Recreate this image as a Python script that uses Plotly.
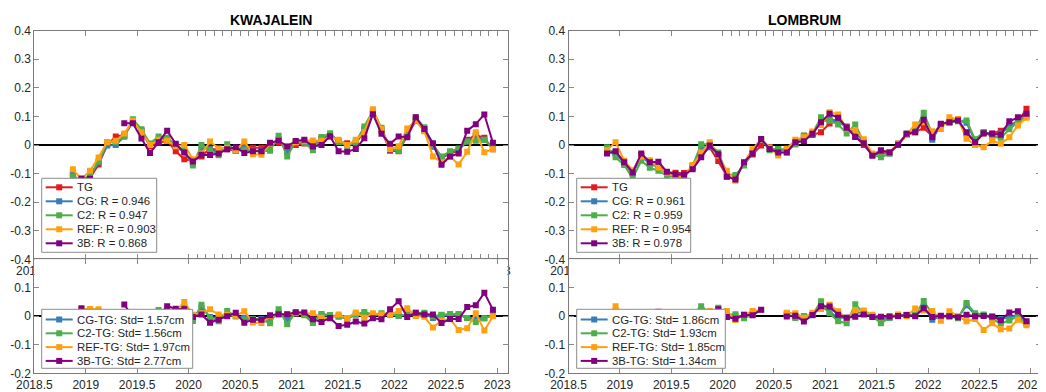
import numpy as np
import pandas as pd
import plotly.graph_objects as go

nan = np.nan

# ---------------- data ----------------
months = pd.period_range("2018-11", "2022-12", freq="M")
t = [p.year + (p.month - 0.5) / 12 for p in months]

series_names = ["TG", "CG", "C2", "REF", "3B"]

kw_TG = [-0.10, -0.145, -0.115, -0.068, 0.0, 0.03, 0.035, 0.08, 0.05, -0.005,
         0.008, 0.015, -0.022, -0.05, -0.055, -0.04, -0.012, -0.018, -0.015, -0.02,
         -0.005, -0.01, -0.01, 0.005, 0.008, -0.012, 0.0, 0.005, 0.006, 0.02,
         0.037, 0.012, 0.006, 0.005, 0.05, 0.115, 0.05, -0.02, -0.022, 0.03,
         0.085, 0.05, 0.0, -0.045, -0.03, -0.02, 0.018, 0.035, 0.025, -0.015]
kw_CG = [-0.105, -0.13, -0.108, -0.06, -0.002, 0.0, 0.03, 0.085, 0.05, 0.0,
         0.02, 0.022, -0.005, -0.025, -0.065, -0.01, -0.015, -0.025, -0.01, -0.02,
         -0.01, -0.02, -0.02, -0.01, 0.02, -0.025, 0.01, 0.01, -0.01, 0.025,
         0.038, 0.012, 0.0, 0.012, 0.055, 0.118, 0.055, -0.015, -0.02, 0.035,
         0.09, 0.058, -0.006, -0.042, -0.028, -0.015, 0.012, 0.03, 0.018, -0.01]
kw_C2 = [-0.11, -0.125, -0.105, -0.058, 0.01, 0.01, 0.03, 0.09, 0.055, 0.005,
         0.03, 0.025, 0.0, -0.02, -0.072, 0.0, -0.018, -0.036, 0.003, -0.02,
         -0.017, -0.02, -0.022, -0.02, 0.032, -0.04, 0.013, 0.008, -0.018, 0.028,
         0.041, 0.01, -0.003, 0.01, 0.065, 0.12, 0.06, -0.014, -0.02, 0.036,
         0.097, 0.062, 0.0, -0.04, -0.022, -0.012, 0.012, 0.015, 0.018, -0.012]
kw_REF = [-0.085, -0.12, -0.09, -0.044, 0.01, 0.015, 0.04, 0.085, 0.045, 0.0,
          0.018, 0.015, -0.004, 0.0, -0.05, -0.03, 0.012, -0.012, -0.01, -0.018,
          0.012, -0.032, -0.034, 0.005, 0.014, -0.005, 0.01, 0.015, 0.016, 0.015,
          0.028, 0.018, 0.0, 0.018, 0.045, 0.125, 0.056, -0.014, -0.004, 0.058,
          0.086, 0.048, -0.04, -0.06, -0.04, -0.068, -0.024, 0.045, -0.025, -0.015]
kw_3B = [nan, -0.117, -0.118, nan, nan, nan, 0.076, 0.076, 0.023, -0.028,
         0.01, 0.05, 0.004, -0.026, -0.058, -0.034, -0.035, -0.03, -0.015, -0.008,
         -0.028, -0.022, -0.022, 0.008, 0.015, -0.005, 0.014, 0.018, -0.005, 0.0,
         0.031, -0.022, -0.024, -0.014, 0.024, 0.108, 0.039, 0.004, 0.03, 0.027,
         0.097, 0.056, 0.006, -0.069, -0.04, -0.03, 0.05, 0.073, 0.107, 0.008]

lo_TG = [-0.02, -0.025, -0.06, -0.095, -0.035, -0.06, -0.075, -0.095, -0.097, -0.098,
         -0.08, -0.032, -0.008, -0.056, -0.108, -0.112, -0.065, -0.033, -0.002, nan,
         nan, -0.025, 0.008, 0.032, 0.035, 0.045, 0.075, 0.09, 0.065, 0.03,
         0.0, -0.035, -0.018, -0.025, 0.0, 0.035, 0.045, 0.06, 0.03, 0.072,
         0.08, 0.09, 0.04, 0.01, 0.04, 0.04, 0.05, 0.07, 0.08, 0.127]
lo_CG = [-0.015, -0.03, -0.062, -0.1, -0.04, -0.065, -0.078, -0.1, -0.105, -0.108,
         -0.075, -0.01, -0.005, -0.035, -0.11, -0.11, -0.07, -0.028, 0.02, -0.014,
         -0.015, -0.02, 0.005, 0.03, 0.038, 0.08, 0.09, 0.085, 0.06, 0.045,
         0.01, -0.035, -0.03, -0.03, 0.005, 0.038, 0.05, 0.095, 0.018, 0.072,
         0.08, 0.085, 0.078, 0.015, 0.045, 0.038, 0.04, 0.065, 0.085, 0.105]
lo_C2 = [-0.008, -0.043, -0.07, -0.116, -0.055, -0.08, -0.09, -0.108, -0.113, -0.116,
         -0.073, 0.003, 0.003, -0.026, -0.103, -0.105, -0.072, -0.026, 0.02, -0.018,
         -0.014, -0.016, 0.002, 0.033, 0.04, 0.097, 0.085, 0.072, 0.04, 0.072,
         0.01, -0.035, -0.043, -0.03, 0.0, 0.04, 0.05, 0.113, 0.038, 0.07,
         0.08, 0.083, 0.086, 0.02, 0.045, 0.03, 0.025, 0.055, 0.08, 0.1]
lo_REF = [-0.018, 0.01, -0.055, -0.088, -0.04, -0.053, -0.079, -0.096, -0.11, -0.11,
          -0.07, -0.026, 0.01, -0.038, -0.09, -0.125, -0.06, -0.015, 0.02, -0.008,
          -0.037, -0.013, 0.018, 0.027, 0.047, 0.07, 0.115, 0.107, 0.058, 0.052,
          0.02, -0.03, -0.022, -0.025, 0.005, 0.035, 0.072, 0.08, 0.048, 0.056,
          0.097, 0.09, 0.022, 0.0, -0.008, 0.015, 0.004, 0.027, 0.068, 0.095]
lo_3B = [-0.03, -0.022, -0.06, -0.096, -0.03, -0.06, -0.059, -0.094, -0.102, -0.104,
         -0.085, -0.043, -0.002, -0.032, -0.111, -0.121, -0.06, -0.03, 0.021, -0.014,
         -0.026, -0.026, 0.01, 0.013, 0.039, 0.08, 0.109, 0.095, 0.06, 0.028,
         0.006, -0.038, -0.02, -0.026, 0.001, 0.039, 0.045, 0.088, 0.027, 0.074,
         0.08, 0.086, 0.045, 0.01, 0.041, 0.039, 0.036, 0.083, 0.097, 0.109]

kw_R = [0.946, 0.947, 0.903, 0.868]
lo_R = [0.961, 0.959, 0.954, 0.978]
kw_std = [1.57, 1.56, 1.97, 2.77]
lo_std = [1.86, 1.93, 1.85, 1.34]

stations = ["KWAJALEIN", "LOMBRUM"]

top_yticks = [-0.4, -0.3, -0.2, -0.1, 0, 0.1, 0.2, 0.3, 0.4]
bot_yticks = [-0.2, -0.1, 0, 0.1]
bot_xticks = [2018.5, 2019, 2019.5, 2020, 2020.5, 2021, 2021.5, 2022, 2022.5, 2023]
top_xticks = [2018.5, 2019, 2019.5] + [2020 + m / 12 for m in range(37)]

colors = {"TG": "#e41a1c", "CG": "#377eb8", "C2": "#4daf4a",
          "REF": "#ffa010", "3B": "#800080"}

# ---------------- figure ----------------
# the page body has an 8 px default margin, so the figure is sized to the
# remaining window area and all layout positions below are window pixels.
OFF = 8
W, H = 1046 - OFF, 392 - OFF
FONT = "Liberation Sans, Arial, sans-serif"


def pxx(x):
    return (x - OFF) / W


def pyy(y):
    return 1 - (y - OFF) / H


def fmt(v):
    return f"{v:g}"


fig = go.Figure()

station_data = [
    dict(TG=kw_TG, CG=kw_CG, C2=kw_C2, REF=kw_REF, **{"3B": kw_3B}),
    dict(TG=lo_TG, CG=lo_CG, C2=lo_C2, REF=lo_REF, **{"3B": lo_3B}),
]

for si, d in enumerate(station_data):
    xa_top = "x" if si == 0 else "x2"
    ya_top = "y" if si == 0 else "y2"
    xa_bot = "x3" if si == 0 else "x4"
    ya_bot = "y3" if si == 0 else "y4"
    for name in series_names:
        fig.add_trace(go.Scatter(
            x=t, y=d[name], mode="lines+markers", name=name,
            xaxis=xa_top, yaxis=ya_top,
            line=dict(color=colors[name], width=2),
            marker=dict(symbol="square", size=6, color=colors[name], line=dict(width=0)),
            showlegend=False))
    tg = np.array(d["TG"], dtype=float)
    for name in series_names[1:]:
        diff = np.array(d[name], dtype=float) - tg
        fig.add_trace(go.Scatter(
            x=t, y=diff, mode="lines+markers", name=f"{name}-TG",
            xaxis=xa_bot, yaxis=ya_bot,
            line=dict(color=colors[name], width=2),
            marker=dict(symbol="square", size=6, color=colors[name], line=dict(width=0)),
            showlegend=False))

axis_common = dict(showline=True, linecolor="#7a7a7a", linewidth=1, mirror="ticks",
                   ticks="inside", ticklen=5, tickcolor="#8a8a8a", tickwidth=1,
                   showgrid=False, tickangle=0, automargin=False,
                   tickfont=dict(family=FONT, size=12, color="#262626"))

xl = [pxx(34.3), pxx(507.5)]
xr = [pxx(568.5), pxx(1041)]
ytop = [pyy(259.3), pyy(30.7)]
ybot = [pyy(373.3), pyy(259.1)]

top_xtext = []
for v in top_xticks:
    if abs(v * 2 - round(v * 2)) < 1e-6:
        top_xtext.append(fmt(round(v, 1)))
    else:
        top_xtext.append("")

xrange = [2018.5, 2023.1]

for key, dom, anchor in [("xaxis", xl, "y"), ("xaxis2", xr, "y2")]:
    fig.update_layout({key: dict(domain=dom, anchor=anchor, range=xrange,
                                 tickmode="array", tickvals=top_xticks, ticktext=top_xtext,
                                 zeroline=False, **axis_common)})
for key, dom, anchor in [("xaxis3", xl, "y3"), ("xaxis4", xr, "y4")]:
    fig.update_layout({key: dict(domain=dom, anchor=anchor, range=xrange,
                                 tickmode="array", tickvals=bot_xticks,
                                 ticktext=[fmt(v) for v in bot_xticks],
                                 zeroline=False, **axis_common)})
for key, anchor in [("yaxis", "x"), ("yaxis2", "x2")]:
    fig.update_layout({key: dict(domain=ytop, anchor=anchor, range=[-0.4, 0.4],
                                 tickmode="array", tickvals=top_yticks,
                                 ticktext=[fmt(v) for v in top_yticks],
                                 zeroline=True, zerolinecolor="black", zerolinewidth=2,
                                 **axis_common)})
for key, anchor in [("yaxis3", "x3"), ("yaxis4", "x4")]:
    fig.update_layout({key: dict(domain=ybot, anchor=anchor, range=[-0.2, 0.2],
                                 tickmode="array", tickvals=bot_yticks,
                                 ticktext=[fmt(v) for v in bot_yticks],
                                 zeroline=True, zerolinecolor="black", zerolinewidth=2,
                                 **axis_common)})

# titles
for name, cx in zip(stations, [(34.3 + 507.5) / 2, (568.5 + 1041) / 2]):
    fig.add_annotation(xref="paper", yref="paper", x=pxx(cx), y=pyy(20), text=f"<b>{name}</b>",
                       showarrow=False, xanchor="center", yanchor="middle",
                       font=dict(family=FONT, size=14, color="black"))


# legends (MATLAB-style compact boxes)
def add_legend(box, labels, cols, y0, dy):
    bx0, by0, bx1, by1 = box
    fig.add_shape(type="rect", xref="paper", yref="paper",
                  x0=pxx(bx0), x1=pxx(bx1), y0=pyy(by1), y1=pyy(by0),
                  line=dict(color="#8c8c8c", width=1), fillcolor="white", layer="above")
    for i, (lab, col) in enumerate(zip(labels, cols)):
        yy = y0 + i * dy
        fig.add_shape(type="line", xref="paper", yref="paper",
                      x0=pxx(bx0 + 4), x1=pxx(bx0 + 31), y0=pyy(yy), y1=pyy(yy),
                      line=dict(color=col, width=2), layer="above")
        fig.add_shape(type="rect", xref="paper", yref="paper",
                      x0=pxx(bx0 + 17.5 - 3), x1=pxx(bx0 + 17.5 + 3),
                      y0=pyy(yy + 3), y1=pyy(yy - 3),
                      fillcolor=col, line=dict(width=0), layer="above")
        fig.add_annotation(xref="paper", yref="paper", x=pxx(bx0 + 33.5), y=pyy(yy),
                           text=lab, showarrow=False, xanchor="left", yanchor="middle",
                           font=dict(family=FONT, size=11.4, color="#262626"))


top_cols = [colors[n] for n in series_names]
bot_cols = [colors[n] for n in series_names[1:]]
kw_top_labels = ["TG"] + [f"{n}: R = {r:.3f}" for n, r in zip(series_names[1:], kw_R)]
lo_top_labels = ["TG"] + [f"{n}: R = {r:.3f}" for n, r in zip(series_names[1:], lo_R)]
kw_bot_labels = [f"{n}-TG: Std= {s:.2f}cm" for n, s in zip(series_names[1:], kw_std)]
lo_bot_labels = [f"{n}-TG: Std= {s:.2f}cm" for n, s in zip(series_names[1:], lo_std)]

add_legend((41.7, 178.3, 156.7, 252.3), kw_top_labels, top_cols, 187.3, 14)
add_legend((576.7, 178.3, 690.7, 252.3), lo_top_labels, top_cols, 187.3, 14)
add_legend((41.7, 309.3, 192.7, 368.3), kw_bot_labels, bot_cols, 319.5, 13.8)
add_legend((576.7, 309.3, 725.3, 368.3), lo_bot_labels, bot_cols, 319.5, 13.8)

fig.update_layout(width=W, height=H, margin=dict(l=0, r=0, t=0, b=0),
                  paper_bgcolor="white", plot_bgcolor="white", showlegend=False,
                  font=dict(family=FONT, color="#262626"))

fig.write_html("out.html")
